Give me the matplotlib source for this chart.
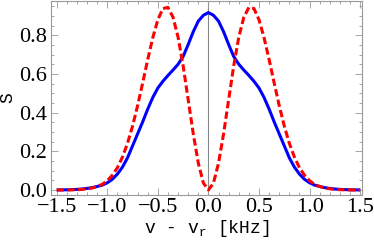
import numpy as np
import matplotlib
matplotlib.use("Agg")
import matplotlib.pyplot as plt
from matplotlib.ticker import MultipleLocator, FixedLocator

# half-axis sample positions (kHz) and values (curves are symmetric)
x_half = [0.00, 0.05, 0.10, 0.15, 0.20, 0.25, 0.30, 0.35, 0.40, 0.45,
          0.50, 0.55, 0.60, 0.65, 0.70, 0.75, 0.80, 0.85, 0.90, 0.95,
          1.00, 1.05, 1.10, 1.15, 1.20, 1.25, 1.30, 1.35, 1.40, 1.45, 1.50]
blue_half = [0.917, 0.903, 0.873, 0.818, 0.752, 0.690, 0.650, 0.620, 0.592, 0.562,
             0.527, 0.478, 0.418, 0.352, 0.290, 0.228, 0.166, 0.118, 0.082, 0.055,
             0.037, 0.025, 0.018, 0.012, 0.008, 0.005, 0.003, 0.002, 0.001, 0.0005, 0.0003]
red_half = [0.000, 0.036, 0.139, 0.291, 0.467, 0.642, 0.790, 0.893, 0.944, 0.938,
            0.880, 0.787, 0.674, 0.553, 0.436, 0.330, 0.241, 0.170, 0.115, 0.076,
            0.048, 0.029, 0.018, 0.010, 0.006, 0.003, 0.0015, 0.0007, 0.0003, 0.0001, 0.0]

x_ticks = [-1.5, -1.0, -0.5, 0.0, 0.5, 1.0, 1.5]
x_tick_labels = ["\u22121.5", "\u22121.0", "\u22120.5", "0.0", "0.5", "1.0", "1.5"]
y_ticks = [0.0, 0.2, 0.4, 0.6, 0.8]
y_tick_labels = ["0.0", "0.2", "0.4", "0.6", "0.8"]

x = np.concatenate([-np.array(x_half[::-1]), np.array(x_half[1:])])
blue = np.concatenate([np.array(blue_half[::-1]), np.array(blue_half[1:])])
red = np.concatenate([np.array(red_half[::-1]), np.array(red_half[1:])])

fig = plt.figure(figsize=(3.74, 2.45), dpi=100)
ax = fig.add_axes([51/374, 1-195/245, 311/374, 194/245])

gray = "#999999"
ax.axvline(0, color="#888888", lw=0.8, zorder=1)
ax.plot(x, blue, color="#0000ff", lw=2.2, solid_capstyle="butt", zorder=2)
ax.plot(x, red, color="#ff0000", lw=2.2, dashes=(2.4, 1.1), zorder=3)

ax.set_xlim(-1.556, 1.518)
ax.set_ylim(-0.026, 0.977)

for s in ax.spines.values():
    s.set_color(gray)
    s.set_linewidth(0.8)

ax.xaxis.set_major_locator(FixedLocator(x_ticks))
ax.xaxis.set_minor_locator(MultipleLocator(0.1))
ax.yaxis.set_major_locator(FixedLocator(y_ticks))
ax.yaxis.set_minor_locator(MultipleLocator(0.05))
ax.set_xticklabels(x_tick_labels)
ax.set_yticklabels(y_tick_labels)

for lab in ax.get_xticklabels() + ax.get_yticklabels():
    lab.set_fontfamily("Liberation Serif")
    lab.set_fontsize(16)

ax.tick_params(which="both", direction="in", top=True, right=True, color=gray, width=0.6)
ax.tick_params(which="major", length=5, pad=3)
ax.tick_params(which="minor", length=2.5)
ax.tick_params(axis="x", which="major", pad=2)

ax.set_xlabel(r"v - v$_\mathregular{r}$ [kHz]", family="Liberation Mono", fontsize=13, labelpad=1)
ax.set_ylabel("S", family="Liberation Mono", fontsize=13, labelpad=2)

fig.savefig("out.png", dpi=100)
